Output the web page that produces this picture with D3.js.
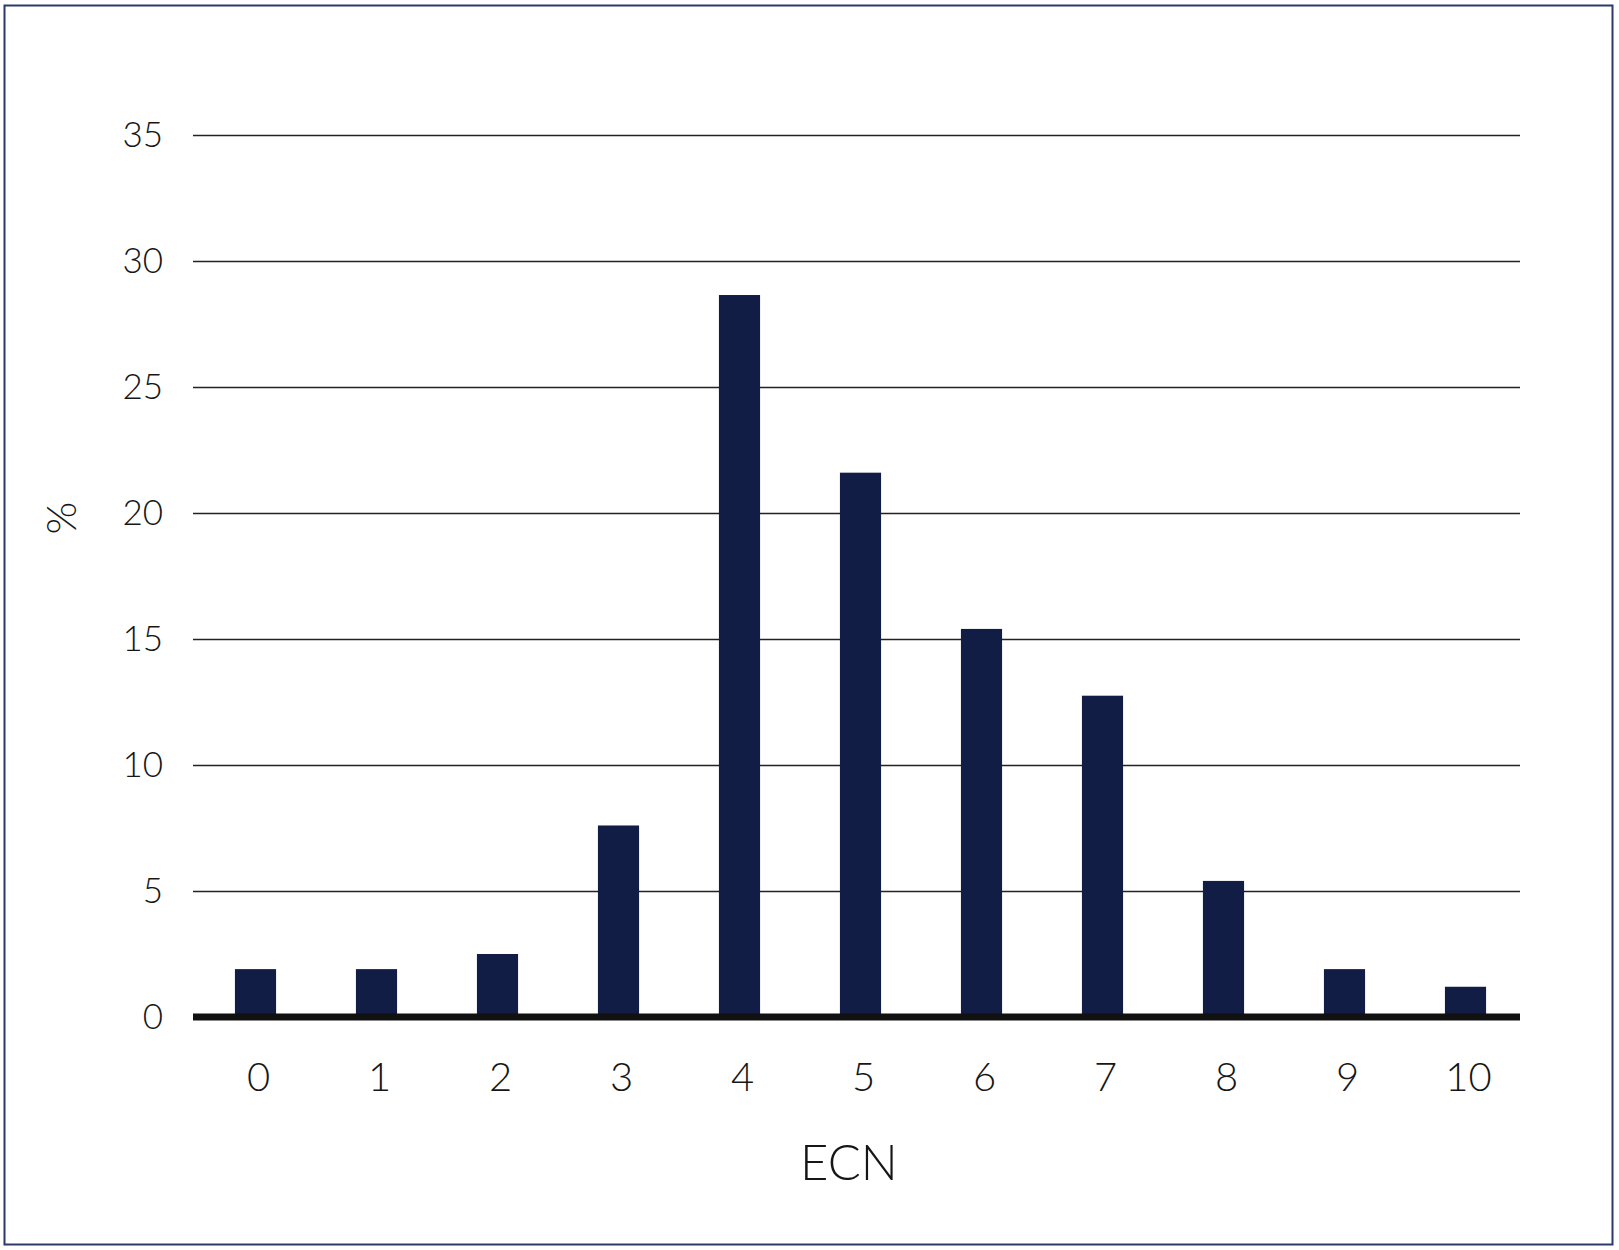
<!DOCTYPE html>
<html>
<head>
<meta charset="utf-8">
<script src="https://cdn.jsdelivr.net/npm/d3@7"></script>
<style>
  body { margin: 0; background: #fff; }
  svg text { font-family: Lato, "Open Sans", sans-serif; font-weight: 300; fill: #161616; }
</style>
</head>
<body>
<div id="canvas"></div>
<script>
var categories = ["0", "1", "2", "3", "4", "5", "6", "7", "8", "9", "10"];
var percents = [1.9, 1.9, 2.5, 7.6, 28.65, 21.6, 15.4, 12.75, 5.4, 1.9, 1.2];
var yTicks = [0, 5, 10, 15, 20, 25, 30, 35];

var data = categories.map(function(c, i) { return {ecn: c, pct: percents[i]}; });

var W = 1619, H = 1250;

var svg = d3.select("#canvas").append("svg")
  .attr("width", W)
  .attr("height", H);

// frame round the whole figure
svg.append("rect")
  .attr("x", 4.5).attr("y", 5.5)
  .attr("width", 1608).attr("height", 1239)
  .attr("fill", "none")
  .attr("stroke", "#2b3a6b")
  .attr("stroke-width", 2);

var gridLeft = 193, gridRight = 1520;

var x = d3.scaleBand().domain(categories).range([195, 1526]).paddingInner(0.66).paddingOuter(0.33);
var y = d3.scaleLinear().domain([0, 35]).range([1017, 135]);

// gridlines and y labels
var yAxis = d3.axisLeft(y).tickValues(yTicks).tickSize(gridLeft - gridRight).tickPadding(30);

var gy = svg.append("g")
  .attr("transform", "translate(" + gridLeft + ",0)")
  .call(yAxis);
gy.select(".domain").remove();
gy.selectAll(".tick line")
  .attr("x1", 0).attr("x2", gridRight - gridLeft)
  .attr("stroke", "#222").attr("stroke-width", 1.6);
gy.selectAll(".tick text")
  .attr("x", -30)
  .style("font-size", "35px");

// bars
svg.append("g").selectAll("rect").data(data).enter()
  .append("rect")
  .attr("x", function(d) { return x(d.ecn); })
  .attr("y", function(d) { return y(d.pct); })
  .attr("width", x.bandwidth())
  .attr("height", function(d) { return y(0) - y(d.pct); })
  .attr("fill", "#111d45");

// thick zero line
svg.append("line")
  .attr("x1", gridLeft).attr("x2", gridRight)
  .attr("y1", y(0)).attr("y2", y(0))
  .attr("stroke", "#111").attr("stroke-width", 7);

// x labels
var xAxis = d3.axisBottom(x).tickSize(0).tickPadding(0);
var gx = svg.append("g")
  .attr("transform", "translate(3,1077)")
  .call(xAxis);
gx.select(".domain").remove();
gx.selectAll(".tick text")
  .attr("y", 0)
  .attr("dy", "0.36em")
  .style("font-size", "40px");

// axis titles
svg.append("text").text("ECN")
  .attr("x", 849).attr("y", 1162)
  .attr("dy", "0.36em")
  .style("text-anchor", "middle")
  .style("font-size", "49px");

svg.append("text").text("%")
  .attr("transform", "translate(61,518) rotate(-90)")
  .attr("dy", "0.36em")
  .style("text-anchor", "middle")
  .style("font-size", "42px");
</script>
</body>
</html>
